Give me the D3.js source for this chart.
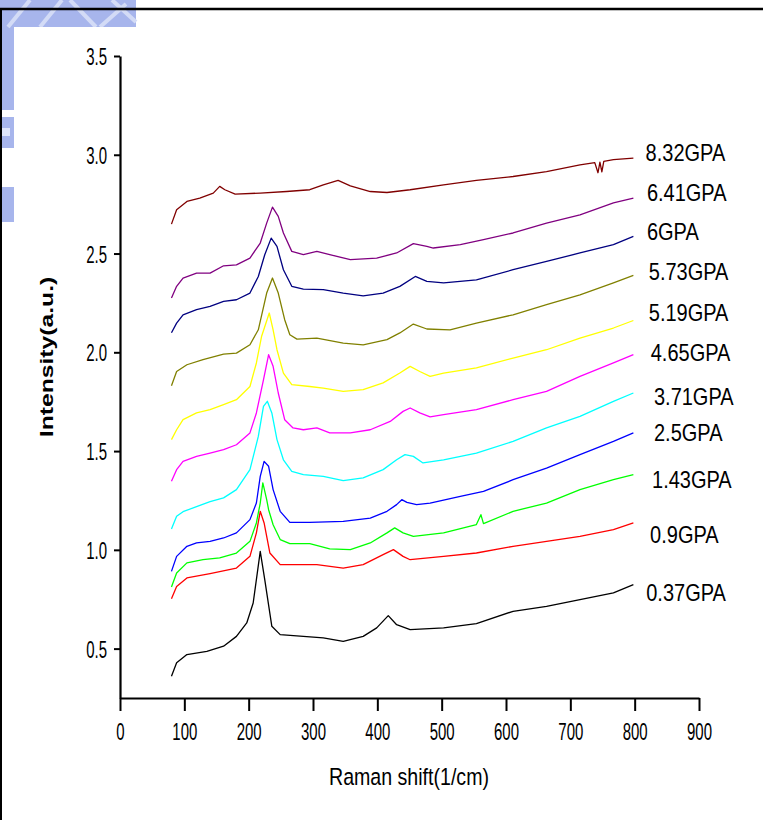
<!DOCTYPE html>
<html>
<head>
<meta charset="utf-8">
<script src="https://cdn.jsdelivr.net/npm/d3@7"></script>
<style>
  body { margin: 0; background: #fff; }
  text { font-family: "Liberation Sans", Arial, sans-serif; fill: #000; }
</style>
</head>
<body>
<svg id="chart" width="763" height="820"></svg>
<script>
// spectra: [Raman shift (1/cm), intensity (a.u.)]
var s037 = [[80,.360],[88,.428],[104,.470],[135,.486],[161,.512],[181,.562],[197,.630],[207,.731],[218,.992],[225,.849],[236,.613],[249,.571],[285,.562],[316,.554],[347,.537],[378,.562],[399,.605],[417,.667],[430,.621],[451,.596],[503,.605],[554,.627],[611,.689],[663,.714],[715,.748],[767,.782],[798,.824]]
var s090 = [[80,.752],[88,.815],[104,.858],[140,.880],[181,.908],[202,.967],[212,1.086],[218,1.195],[224,1.136],[233,.984],[249,.925],[275,.925],[306,.925],[347,.908],[378,.925],[409,.976],[425,1.001],[440,.967],[451,.950],[503,.967],[554,.984],[611,1.018],[663,1.043],[715,1.068],[767,1.102],[798,1.136]]
var s143 = [[80,.812],[88,.883],[104,.934],[129,.950],[155,.959],[181,.984],[202,1.043],[212,1.136],[218,1.237],[222,1.339],[228,1.254],[231,1.203],[238,1.127],[249,1.052],[264,1.031],[295,1.031],[326,1.005],[358,1.001],[389,1.035],[415,1.086],[427,1.111],[440,1.086],[456,1.068],[503,1.086],[554,1.128],[561,1.178],[565,1.133],[611,1.195],[663,1.237],[715,1.305],[767,1.355],[798,1.381]]
var s250 = [[80,.891],[88,.967],[104,1.018],[119,1.035],[140,1.043],[161,1.060],[181,1.086],[202,1.153],[212,1.237],[218,1.372],[224,1.448],[231,1.423],[238,1.305],[249,1.195],[264,1.139],[295,1.139],[347,1.144],[389,1.161],[415,1.195],[430,1.229],[438,1.254],[446,1.240],[461,1.229],[482,1.237],[529,1.271],[565,1.296],[611,1.355],[663,1.414],[715,1.482],[767,1.549],[798,1.592]]
var s371 = [[80,1.106],[88,1.170],[98,1.193],[119,1.219],[140,1.244],[161,1.263],[181,1.305],[202,1.406],[215,1.574],[223,1.726],[229,1.752],[236,1.693],[244,1.558],[254,1.456],[267,1.397],[285,1.381],[316,1.372],[347,1.350],[378,1.364],[409,1.406],[430,1.456],[443,1.482],[456,1.473],[471,1.440],[503,1.456],[554,1.490],[611,1.549],[663,1.617],[715,1.676],[767,1.752],[798,1.794]]
var s465 = [[80,1.347],[88,1.406],[98,1.448],[119,1.473],[140,1.490],[161,1.507],[181,1.532],[202,1.592],[212,1.693],[223,1.861],[231,1.988],[238,1.929],[246,1.794],[256,1.659],[269,1.617],[285,1.608],[306,1.617],[326,1.592],[358,1.592],[389,1.608],[420,1.650],[440,1.701],[451,1.718],[466,1.693],[482,1.673],[503,1.684],[554,1.710],[611,1.760],[663,1.802],[715,1.878],[767,1.946],[798,1.988]]
var s519 = [[80,1.558],[88,1.608],[98,1.659],[119,1.693],[140,1.710],[161,1.735],[181,1.760],[202,1.827],[212,1.946],[220,2.080],[232,2.199],[238,2.114],[244,2.013],[254,1.895],[267,1.836],[295,1.827],[316,1.819],[347,1.802],[378,1.811],[409,1.845],[435,1.895],[451,1.929],[466,1.903],[482,1.878],[503,1.895],[554,1.921],[611,1.971],[663,2.013],[715,2.072],[767,2.123],[798,2.161]]
var s573 = [[80,1.831],[88,1.903],[104,1.937],[129,1.963],[161,1.991],[181,1.996],[202,2.038],[215,2.114],[228,2.300],[237,2.376],[246,2.300],[256,2.165],[264,2.089],[275,2.067],[306,2.072],[347,2.047],[378,2.038],[415,2.064],[435,2.098],[456,2.143],[477,2.118],[513,2.114],[554,2.148],[611,2.190],[663,2.241],[715,2.291],[767,2.351],[798,2.389]]
var s600 = [[80,2.099],[88,2.148],[98,2.190],[119,2.216],[140,2.232],[161,2.258],[181,2.266],[202,2.300],[215,2.384],[225,2.494],[235,2.578],[244,2.536],[254,2.418],[267,2.334],[285,2.320],[316,2.317],[347,2.300],[378,2.286],[409,2.300],[435,2.334],[459,2.384],[477,2.359],[503,2.351],[554,2.367],[611,2.418],[663,2.460],[715,2.503],[767,2.545],[798,2.587]]
var s641 = [[80,2.275],[88,2.334],[98,2.376],[119,2.401],[140,2.401],[161,2.438],[181,2.443],[202,2.477],[218,2.553],[228,2.654],[237,2.735],[246,2.688],[254,2.604],[267,2.511],[285,2.494],[306,2.511],[326,2.494],[358,2.469],[399,2.477],[430,2.503],[456,2.550],[477,2.536],[487,2.528],[529,2.545],[565,2.570],[611,2.604],[663,2.654],[715,2.696],[767,2.756],[798,2.781]]
var s832 = [[80,2.649],[88,2.722],[104,2.764],[124,2.781],[145,2.806],[155,2.840],[163,2.823],[179,2.801],[218,2.806],[259,2.814],[295,2.823],[316,2.848],[339,2.870],[358,2.843],[389,2.814],[415,2.809],[451,2.823],[503,2.848],[554,2.870],[611,2.890],[663,2.915],[715,2.949],[738,2.960],[743,2.909],[746,2.963],[749,2.914],[752,2.967],[767,2.975],[798,2.983]]

var spectra = [s037, s090, s143, s250, s371, s465, s519, s573, s600, s641, s832]
var pressures = ['0.37GPA', '0.9GPA', '1.43GPA', '2.5GPA', '3.71GPA', '4.65GPA', '5.19GPA', '5.73GPA', '6GPA', '6.41GPA', '8.32GPA']
// label anchor in data units (left edge, baseline)
var labelShift = [818, 824, 827, 830, 830, 825, 822, 822, 819, 819, 817]
var labelLevel = [.739, 1.037, 1.315, 1.549, 1.735, 1.954, 2.156, 2.368, 2.570, 2.764, 2.966]
// Origin default line colours, in plotting order
var colors = ['#000000', '#ff0000', '#00ff00', '#0000ff', '#00ffff', '#ff00ff', '#ffff00', '#808000', '#000080', '#800080', '#800000']

var xMajor = d3.range(0, 901, 100)
var xMinor = d3.range(50, 900, 100)
var yMajor = [0.5, 1.0, 1.5, 2.0, 2.5, 3.0, 3.5]
var yMinor = [0.25, 0.75, 1.25, 1.75, 2.25, 2.75, 3.25]

var svg = d3.select('#chart')

// scanned-page leftovers: watermark corner, white plot sheet, frame
var wm = svg.append('g')
wm.append('rect').attr('x', 0).attr('y', 0).attr('width', 136).attr('height', 27).attr('fill', '#a7b5ec')
wm.append('rect').attr('x', 0).attr('y', 27).attr('width', 14).attr('height', 195).attr('fill', '#a7b5ec')
;[[8, 27, 30, 0], [40, 27, 62, 0], [70, 0, 96, 27], [100, 27, 126, 4], [112, 0, 136, 22]].forEach(d => {
  wm.append('line').attr('x1', d[0]).attr('y1', d[1]).attr('x2', d[2]).attr('y2', d[3])
    .attr('stroke', '#d3dbf6').attr('stroke-width', 4)
})
wm.append('rect').attr('x', 0).attr('y', 110).attr('width', 14).attr('height', 7).attr('fill', '#fff')
wm.append('rect').attr('x', 0).attr('y', 148).attr('width', 14).attr('height', 39).attr('fill', '#fff')
wm.append('rect').attr('x', 2).attr('y', 128).attr('width', 8).attr('height', 8).attr('fill', '#dfe5fa')

svg.append('rect').attr('x', 14).attr('y', 27).attr('width', 749).attr('height', 793).attr('fill', '#fff')
svg.append('line').attr('x1', 0).attr('x2', 763).attr('y1', 9).attr('y2', 9).attr('stroke', '#000').attr('stroke-width', 2.5)
svg.append('line').attr('x1', 1).attr('x2', 1).attr('y1', 9).attr('y2', 820).attr('stroke', '#000').attr('stroke-width', 2)

var x = d3.scaleLinear().domain([0, 900]).range([120, 699])
var y = d3.scaleLinear().domain([0.25, 3.5]).range([698, 56])

// axes
var gx = svg.append('g').attr('transform', 'translate(0,698)')
gx.call(d3.axisBottom(x).tickValues(xMinor).tickSize(7).tickSizeOuter(0).tickFormat(''))
gx.call(d3.axisBottom(x).tickValues(xMajor).tickSize(13).tickSizeOuter(0).tickFormat(d3.format('d')))
var gy = svg.append('g').attr('transform', 'translate(120,0)')
gy.call(d3.axisLeft(y).tickValues(yMinor).tickSize(3).tickSizeOuter(0).tickFormat(''))
gy.call(d3.axisLeft(y).tickValues(yMajor).tickSize(6).tickSizeOuter(0).tickFormat(d3.format('.1f')))

svg.selectAll('.domain').attr('stroke', '#000').attr('stroke-width', 2.2)
svg.selectAll('.tick line').attr('stroke', '#000').attr('stroke-width', 2)
gx.selectAll('.tick text')
  .attr('y', null).attr('dy', null)
  .attr('transform', 'translate(0,42) scale(1,1.58)')
  .style('font-size', '15px').attr('fill', '#000')
gy.selectAll('.tick text')
  .attr('x', null).attr('dy', null)
  .attr('transform', 'translate(-13,8.5) scale(1,1.58)')
  .style('font-size', '15px').attr('fill', '#000')

// spectra
var line = d3.line().x(d => x(d[0])).y(d => y(d[1]))
svg.append('g').selectAll('path').data(spectra).join('path')
  .attr('d', line)
  .attr('fill', 'none')
  .attr('stroke', (d, i) => colors[i])
  .attr('stroke-width', 1.3)
  .attr('stroke-linejoin', 'round')

// pressure labels
svg.append('g').selectAll('text').data(pressures).join('text')
  .attr('transform', (d, i) => `translate(${x(labelShift[i])},${y(labelLevel[i])}) scale(1,1.2)`)
  .style('font-size', '20px')
  .text(d => d)

// axis titles
svg.append('text')
  .attr('transform', 'translate(409,785) scale(1,1.2)')
  .attr('text-anchor', 'middle')
  .style('font-size', '19.6px')
  .text('Raman shift(1/cm)')
svg.append('text')
  .attr('transform', 'translate(53,357) rotate(-90) scale(1.3,1)')
  .attr('text-anchor', 'middle')
  .style('font-size', '19px')
  .style('font-weight', 'bold')
  .text('Intensity(a.u.)')
</script>
</body>
</html>
